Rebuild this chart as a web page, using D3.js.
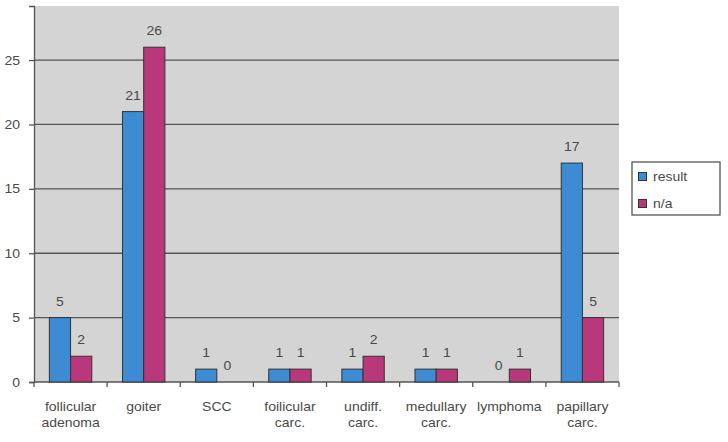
<!DOCTYPE html>
<html><head><meta charset="utf-8">
<script src="https://cdn.jsdelivr.net/npm/d3@7"></script>
<style>body{margin:0;background:#fff}svg{display:block;font-family:"Liberation Sans",Arial,sans-serif}</style>
</head><body><svg id="c" width="728" height="442"></svg>
<script>
const categories = [["follicular","adenoma"],["goiter"],["SCC"],["foilicular","carc."],["undiff.","carc."],["medullary","carc."],["lymphoma"],["papillary","carc."]];
const seriesNames = ["result","n/a"];
const resultValues = [5,21,1,1,1,1,0,17];
const naValues = [2,26,0,1,2,1,1,5];
const yTicks = [0,5,10,15,20,25];
const colors = ["#3c8bd3","#b9377b"];

const FS = 12.5, SX = 1.12, TC = "#4a4a4a";
const svg = d3.select("#c");
const m = {l:34, r:619, t:6, b:382};
const x = d3.scaleBand().domain(d3.range(categories.length)).range([m.l, m.r]).paddingInner(0.42).paddingOuter(0.21);
const xs = d3.scaleBand().domain([0,1]).range([0, x.bandwidth()]);
const y = d3.scaleLinear().domain([0, 29.2]).range([m.b, m.t]);

function label(parent, px, py, lines, anchor){
  const t = parent.append("text").attr("transform",`translate(${px},${py}) scale(${SX},1)`)
    .attr("text-anchor", anchor||"middle").attr("font-size",FS).attr("fill",TC);
  lines.forEach((s,j)=>t.append("tspan").attr("x",0).attr("dy", j?16:0).text(s));
  return t;
}

svg.append("rect").attr("x", m.l).attr("y", m.t).attr("width", m.r-m.l).attr("height", m.b-m.t).attr("fill","#d4d4d4");

// gridlines
svg.append("g").selectAll("line").data(yTicks.filter(d=>d>0)).join("line")
  .attr("x1", m.l).attr("x2", m.r).attr("y1", d=>y(d)).attr("y2", d=>y(d))
  .attr("stroke","#555").attr("stroke-width",1.3);

// y axis
const ya = svg.append("g").attr("transform",`translate(${m.l},0)`).call(d3.axisLeft(y).tickValues(yTicks).tickSize(5).tickFormat(""));
ya.select(".domain").attr("stroke","#555").attr("stroke-width",1.3);
ya.selectAll(".tick line").attr("stroke","#555").attr("stroke-width",1.3);
const yl = svg.append("g");
yTicks.forEach(v=>label(yl, m.l-14, y(v)+4.5, [String(v)], "end"));

// x axis line and ticks at band boundaries
const boundaries = d3.range(categories.length+1).map(i => m.l + i*(m.r-m.l)/categories.length);
svg.append("line").attr("x1",m.l).attr("x2",m.r).attr("y1",m.b).attr("y2",m.b).attr("stroke","#555").attr("stroke-width",1.3);
svg.append("g").selectAll("line").data(boundaries).join("line")
  .attr("x1",d=>d).attr("x2",d=>d).attr("y1",m.b).attr("y2",m.b+5).attr("stroke","#555").attr("stroke-width",1.3);

// bars
const data = categories.map((c,i)=>({i, vals:[resultValues[i], naValues[i]]}));
const g = svg.append("g").selectAll("g").data(data).join("g").attr("transform", d=>`translate(${x(d.i)},0)`);
g.selectAll("rect").data(d=>d.vals.map((v,k)=>({v,k}))).join("rect")
  .attr("x", d=>xs(d.k)).attr("width", xs.bandwidth())
  .attr("y", d=>y(d.v)).attr("height", d=>y(0)-y(d.v))
  .attr("fill", d=>colors[d.k]).attr("stroke","#333").attr("stroke-width",1)
  .attr("display", d=>d.v===0?"none":null);
const vl = svg.append("g");
data.forEach(d=>d.vals.forEach((v,k)=>{
  label(vl, x(d.i)+xs(k)+xs.bandwidth()/2, y(v)-12, [String(v)]);
}));

// x labels
const xl = svg.append("g");
categories.forEach((c,i)=>label(xl, x(i)+x.bandwidth()/2, m.b+29, c));

// legend
const lg = svg.append("g").attr("transform","translate(632,162)");
lg.append("rect").attr("width",88).attr("height",53).attr("fill","#fff").attr("stroke","#555").attr("stroke-width",1.3);
seriesNames.forEach((s,k)=>{
  lg.append("rect").attr("x",6.5).attr("y",10.5+k*27).attr("width",8).attr("height",8).attr("fill",colors[k]).attr("stroke","#333");
  label(lg, 21, 19+k*27, [s], "start");
});
</script></body></html>
